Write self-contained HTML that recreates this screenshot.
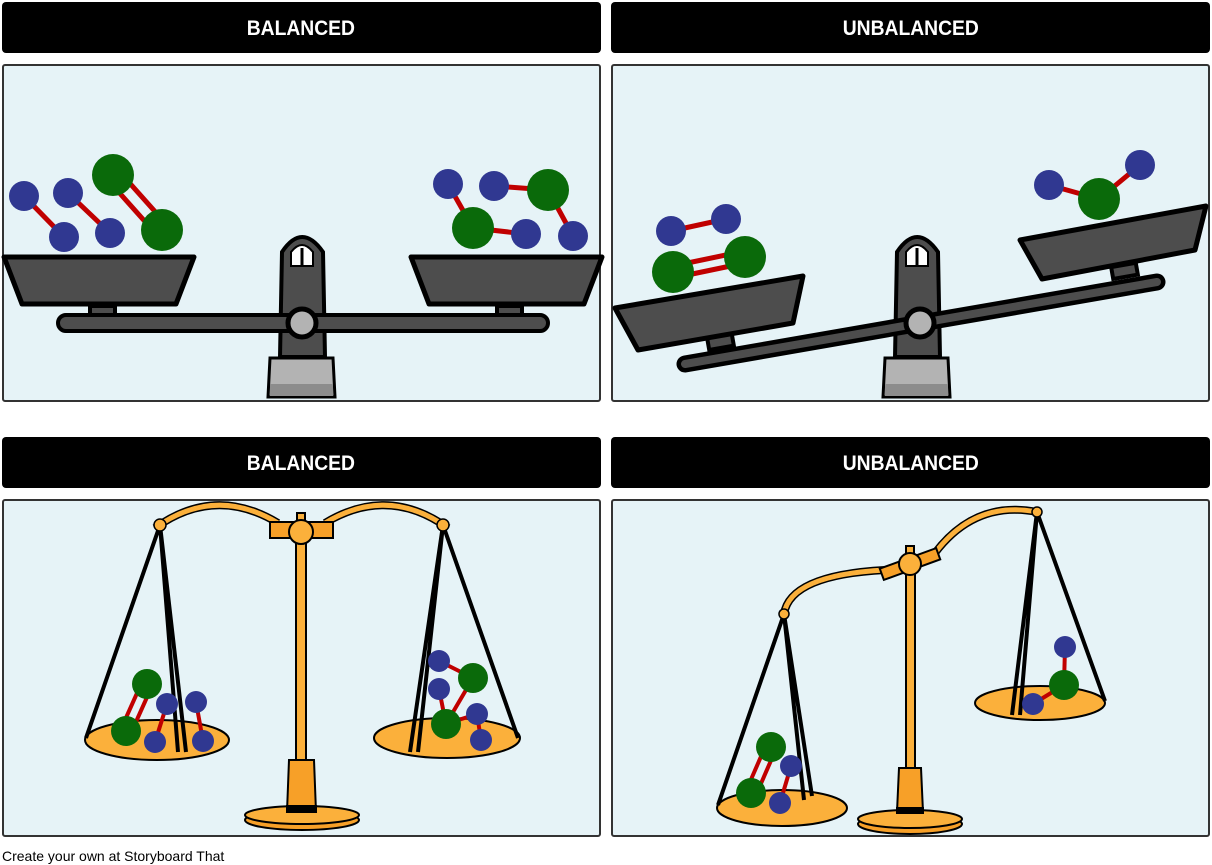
<!DOCTYPE html>
<html><head><style>
html,body{margin:0;padding:0;background:#fff;width:1212px;height:865px;overflow:hidden}
svg{display:block}
</style></head><body>
<svg width="1212" height="865" viewBox="0 0 1212 865" xmlns="http://www.w3.org/2000/svg">
<defs>
<g id="pan"><path d="M4,257 L194,257 L176,303 L22,303 Z" fill="#4d4d4d" stroke="#000" stroke-width="5" stroke-linejoin="round"/></g>
</defs>
<!-- headers -->
<g font-family="Liberation Sans, sans-serif" font-weight="bold" font-size="21" fill="#fff" text-anchor="middle">
<rect x="2" y="2" width="599" height="51" rx="4" fill="#000"/>
<rect x="611" y="2" width="599" height="51" rx="4" fill="#000"/>
<rect x="2" y="437" width="599" height="51" rx="4" fill="#000"/>
<rect x="611" y="437" width="599" height="51" rx="4" fill="#000"/>
<text x="301" y="35" transform="scale(0.92,1) translate(26,0)">BALANCED</text>
<text x="911" y="35" transform="scale(0.92,1) translate(79,0)">UNBALANCED</text>
<text x="301" y="470" transform="scale(0.92,1) translate(26,0)">BALANCED</text>
<text x="911" y="470" transform="scale(0.92,1) translate(79,0)">UNBALANCED</text>
</g>
<!-- panels -->
<g fill="#e6f3f7" stroke="#333" stroke-width="2">
<rect x="3" y="65" width="597" height="336" rx="2"/>
<rect x="612" y="65" width="597" height="336" rx="2"/>
<rect x="3" y="500" width="597" height="336" rx="2"/>
<rect x="612" y="500" width="597" height="336" rx="2"/>
</g>
<text x="2" y="861" font-family="Liberation Sans, sans-serif" font-size="14" fill="#000">Create your own at Storyboard That</text>

<!-- TOP LEFT -->
<g stroke="#000" stroke-width="4">
<path d="M280,357 L282,252 Q302,222 323,252 L325,357 Z" fill="#4d4d4d"/>
<path d="M291,266 L291,252 Q302,238 313,252 L313,266 Z" fill="#fff" stroke-width="2"/>
<line x1="302" y1="248" x2="302" y2="266" stroke-width="3"/>
<path d="M270,358 L333,358 L335,397 L268,397 Z" fill="#b3b3b3" stroke-width="3"/>
<rect x="270" y="384" width="63" height="12" fill="#8c8c8c" stroke="none"/>
<rect x="90" y="306" width="25" height="12" fill="#4d4d4d"/>
<rect x="497" y="306" width="25" height="12" fill="#4d4d4d"/>
<rect x="58" y="315" width="490" height="16" rx="8" fill="#4d4d4d"/>
<circle cx="302" cy="323" r="14" fill="#b3b3b3" stroke-width="5"/>
<path d="M4,257 L194,257 L176,304 L22,304 Z" fill="#4d4d4d" stroke-width="5" stroke-linejoin="round"/>
<path d="M411,257 L602,257 L584,304 L429,304 Z" fill="#4d4d4d" stroke-width="5" stroke-linejoin="round"/>
</g>
<g stroke="#c00000" stroke-width="5">
<line x1="24" y1="196" x2="64" y2="237"/><line x1="68" y1="193" x2="110" y2="233"/>
<line x1="108" y1="180" x2="157" y2="235"/><line x1="118" y1="170" x2="167" y2="225"/>
<line x1="448" y1="184" x2="473" y2="228"/><line x1="494" y1="186" x2="548" y2="190"/>
<line x1="473" y1="228" x2="526" y2="234"/><line x1="548" y1="190" x2="573" y2="236"/>
</g>
<g fill="#303891">
<circle cx="24" cy="196" r="15"/><circle cx="64" cy="237" r="15"/><circle cx="68" cy="193" r="15"/><circle cx="110" cy="233" r="15"/>
<circle cx="448" cy="184" r="15"/><circle cx="494" cy="186" r="15"/><circle cx="526" cy="234" r="15"/><circle cx="573" cy="236" r="15"/>
</g>
<g fill="#0a6a0a">
<circle cx="113" cy="175" r="21"/><circle cx="162" cy="230" r="21"/><circle cx="548" cy="190" r="21"/><circle cx="473" cy="228" r="21"/>
</g>

<!-- TOP RIGHT -->
<g stroke="#000" stroke-width="4">
<path d="M895,357 L897,252 Q917,222 938,252 L940,357 Z" fill="#4d4d4d"/>
<path d="M906,266 L906,252 Q917,238 928,252 L928,266 Z" fill="#fff" stroke-width="2"/>
<line x1="917" y1="248" x2="917" y2="266" stroke-width="3"/>
<path d="M885,358 L948,358 L950,397 L883,397 Z" fill="#b3b3b3" stroke-width="3"/>
<rect x="885" y="384" width="63" height="12" fill="#8c8c8c" stroke="none"/>
<rect x="708" y="336" width="25" height="12" fill="#4d4d4d" transform="rotate(-10 720 342)"/>
<rect x="1112" y="265" width="25" height="12" fill="#4d4d4d" transform="rotate(-10 1124 271)"/>
<line x1="685" y1="364" x2="1157" y2="282" stroke="#000" stroke-width="17" stroke-linecap="round"/>
<line x1="685" y1="364" x2="1157" y2="282" stroke="#4d4d4d" stroke-width="8" stroke-linecap="round"/>
<circle cx="920" cy="323" r="14" fill="#b3b3b3" stroke-width="5"/>
<path d="M615,308 L803,276 L793,323 L638,350 Z" fill="#4d4d4d" stroke-width="5" stroke-linejoin="round"/>
<path d="M1020,240 L1206,206 L1195,250 L1042,279 Z" fill="#4d4d4d" stroke-width="5" stroke-linejoin="round"/>
</g>
<g stroke="#c00000" stroke-width="5">
<line x1="671" y1="231" x2="726" y2="219"/>
<line x1="673" y1="266" x2="745" y2="251"/><line x1="673" y1="278" x2="745" y2="263"/>
<line x1="1049" y1="185" x2="1099" y2="199"/><line x1="1099" y1="199" x2="1140" y2="165"/>
</g>
<g fill="#303891"><circle cx="671" cy="231" r="15"/><circle cx="726" cy="219" r="15"/><circle cx="1049" cy="185" r="15"/><circle cx="1140" cy="165" r="15"/></g>
<g fill="#0a6a0a"><circle cx="673" cy="272" r="21"/><circle cx="745" cy="257" r="21"/><circle cx="1099" cy="199" r="21"/></g>

<!-- BOTTOM LEFT -->
<g stroke="#000" stroke-width="2">
<ellipse cx="302" cy="820" rx="57" ry="10" fill="#f7a028"/>
<ellipse cx="302" cy="815" rx="57" ry="9" fill="#fbb03b"/>
<path d="M289,760 L314,760 L316,812 L287,812 Z" fill="#f7a028"/>
<rect x="287" y="806" width="29" height="6" fill="#000"/>
<rect x="296" y="530" width="10" height="230" fill="#fbb03b"/>
<rect x="297" y="513" width="8" height="10" fill="#fbb03b"/>
<path d="M155,528 Q215,485 278,523" fill="none" stroke="#000" stroke-width="8"/>
<path d="M155,528 Q215,485 278,523" fill="none" stroke="#fbb03b" stroke-width="5"/>
<path d="M448,528 Q388,485 325,523" fill="none" stroke="#000" stroke-width="8"/>
<path d="M448,528 Q388,485 325,523" fill="none" stroke="#fbb03b" stroke-width="5"/>
<rect x="270" y="522" width="63" height="16" fill="#f7a028"/>
<circle cx="301" cy="532" r="12" fill="#fbb03b"/>
<ellipse cx="157" cy="740" rx="72" ry="20" fill="#fbb03b"/>
<ellipse cx="447" cy="738" rx="73" ry="20" fill="#fbb03b"/>
</g>
<g stroke="#000" stroke-width="4" fill="none">
<path d="M160,525 L86,738 M160,525 L186,752 M160,525 L178,752"/>
<path d="M443,525 L518,738 M443,525 L410,752 M443,525 L418,752"/>
</g>
<circle cx="160" cy="525" r="6" fill="#fbb03b" stroke="#000" stroke-width="1.5"/>
<circle cx="443" cy="525" r="6" fill="#fbb03b" stroke="#000" stroke-width="1.5"/>
<g stroke="#c00000" stroke-width="4">
<line x1="142" y1="682" x2="121" y2="729"/><line x1="152" y1="686" x2="131" y2="733"/>
<line x1="167" y1="704" x2="155" y2="742"/><line x1="196" y1="702" x2="203" y2="741"/>
<line x1="439" y1="661" x2="473" y2="678"/><line x1="473" y1="678" x2="446" y2="724"/>
<line x1="446" y1="724" x2="477" y2="714"/><line x1="477" y1="714" x2="481" y2="740"/>
<line x1="439" y1="689" x2="446" y2="724"/>
</g>
<g fill="#303891">
<circle cx="167" cy="704" r="11"/><circle cx="155" cy="742" r="11"/><circle cx="196" cy="702" r="11"/><circle cx="203" cy="741" r="11"/>
<circle cx="439" cy="661" r="11"/><circle cx="439" cy="689" r="11"/><circle cx="477" cy="714" r="11"/><circle cx="481" cy="740" r="11"/>
</g>
<g fill="#0a6a0a"><circle cx="147" cy="684" r="15"/><circle cx="126" cy="731" r="15"/><circle cx="473" cy="678" r="15"/><circle cx="446" cy="724" r="15"/></g>

<!-- BOTTOM RIGHT -->
<g stroke="#000" stroke-width="2">
<ellipse cx="910" cy="824" rx="52" ry="10" fill="#f7a028"/>
<ellipse cx="910" cy="819" rx="52" ry="9" fill="#fbb03b"/>
<path d="M899,768 L921,768 L923,812 L897,812 Z" fill="#f7a028"/>
<rect x="897" y="808" width="26" height="5" fill="#000"/>
<rect x="906" y="560" width="9" height="208" fill="#fbb03b"/>
<rect x="906" y="546" width="8" height="10" fill="#fbb03b"/>
<path d="M784,614 Q790,575 885,570" fill="none" stroke="#000" stroke-width="8"/>
<path d="M784,614 Q790,575 885,570" fill="none" stroke="#fbb03b" stroke-width="5"/>
<path d="M935,553 Q975,500 1037,512" fill="none" stroke="#000" stroke-width="8"/>
<path d="M935,553 Q975,500 1037,512" fill="none" stroke="#fbb03b" stroke-width="5"/>
<rect x="880" y="558" width="60" height="12" fill="#f7a028" transform="rotate(-20 910 564)"/>
<circle cx="910" cy="564" r="11" fill="#fbb03b"/>
<ellipse cx="782" cy="808" rx="65" ry="18" fill="#fbb03b"/>
<ellipse cx="1040" cy="703" rx="65" ry="17" fill="#fbb03b"/>
</g>
<g stroke="#000" stroke-width="4" fill="none">
<path d="M784,614 L718,805 M784,614 L812,796 M784,614 L804,800"/>
<path d="M1037,512 L1105,701 M1037,512 L1012,715 M1037,512 L1020,715"/>
</g>
<circle cx="784" cy="614" r="5" fill="#fbb03b" stroke="#000" stroke-width="1.5"/>
<circle cx="1037" cy="512" r="5" fill="#fbb03b" stroke="#000" stroke-width="1.5"/>
<g stroke="#c00000" stroke-width="4">
<line x1="766" y1="745" x2="746" y2="791"/><line x1="776" y1="749" x2="756" y2="795"/>
<line x1="791" y1="766" x2="780" y2="803"/>
<line x1="1065" y1="647" x2="1064" y2="685"/><line x1="1064" y1="685" x2="1033" y2="704"/>
</g>
<g fill="#303891"><circle cx="791" cy="766" r="11"/><circle cx="780" cy="803" r="11"/><circle cx="1065" cy="647" r="11"/><circle cx="1033" cy="704" r="11"/></g>
<g fill="#0a6a0a"><circle cx="771" cy="747" r="15"/><circle cx="751" cy="793" r="15"/><circle cx="1064" cy="685" r="15"/></g>
</svg>
</body></html>
